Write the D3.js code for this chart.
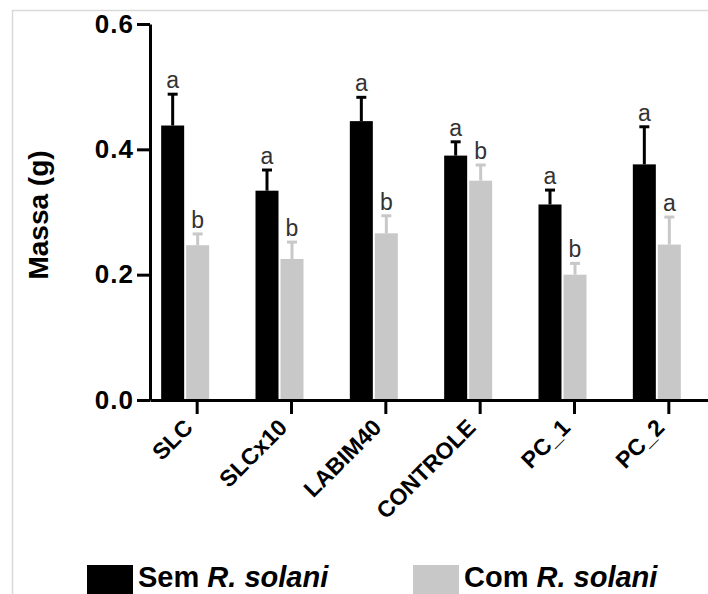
<!DOCTYPE html>
<html>
<head>
<meta charset="utf-8">
<script src="https://cdn.jsdelivr.net/npm/d3@7"></script>
<style>
  body { margin: 0; background: #fff; }
  svg { display: block; font-family: "Liberation Sans", Arial, sans-serif; }
</style>
</head>
<body>
<svg id="chart"></svg>
<script>
const categories = ['SLC', 'SLCx10', 'LABIM40', 'CONTROLE', 'PC_1', 'PC_2'];
const series = ['sem', 'com'];
const semMeans = [0.438, 0.334, 0.445, 0.390, 0.312, 0.376];
const semErr = [0.050, 0.033, 0.038, 0.022, 0.023, 0.060];
const comMeans = [0.247, 0.225, 0.266, 0.350, 0.200, 0.248];
const comErr = [0.018, 0.027, 0.028, 0.025, 0.018, 0.044];
const semLetters = ['a', 'a', 'a', 'a', 'a', 'a'];
const comLetters = ['b', 'b', 'b', 'b', 'b', 'a'];
const yTicks = [0, 0.2, 0.4, 0.6];
const legendLabels = ['Sem', 'Com'];

const width = 708, height = 594;
const colors = {sem: '#000000', com: '#c8c8c8'};

const rows = categories.flatMap((c, i) => [
  {cat: c, s: 'sem', v: semMeans[i], e: semErr[i], l: semLetters[i]},
  {cat: c, s: 'com', v: comMeans[i], e: comErr[i], l: comLetters[i]}
]);

const svg = d3.select('#chart').attr('width', width).attr('height', height);

// light frame
svg.append('path')
  .attr('d', `M12.5,${height} V10.5 H${width}`)
  .attr('fill', 'none').attr('stroke', '#d9d9d9').attr('stroke-width', 1.5);

const x = d3.scaleBand().domain(categories).range([150, 716]).padding(0);
const xs = d3.scaleBand().domain(series).range([-36, 12]).paddingInner(0.08);
const y = d3.scaleLinear().domain([0, 0.6]).range([400, 24]);
const cx = d => x(d.cat) + x.bandwidth() / 2;

// bars
svg.append('g')
  .selectAll('rect')
  .data(rows)
  .join('rect')
    .attr('x', d => cx(d) + xs(d.s))
    .attr('width', xs.bandwidth())
    .attr('y', d => y(d.v))
    .attr('height', d => y(0) - y(d.v))
    .attr('fill', d => colors[d.s]);

// error bars (upper half only)
const err = svg.append('g')
  .selectAll('g')
  .data(rows)
  .join('g')
    .attr('stroke', d => colors[d.s])
    .attr('stroke-width', 3);
err.append('line')
  .attr('x1', d => cx(d) + xs(d.s) + xs.bandwidth() / 2)
  .attr('x2', d => cx(d) + xs(d.s) + xs.bandwidth() / 2)
  .attr('y1', d => y(d.v))
  .attr('y2', d => y(d.v + d.e));
err.append('line')
  .attr('x1', d => cx(d) + xs(d.s) + xs.bandwidth() / 2 - 5)
  .attr('x2', d => cx(d) + xs(d.s) + xs.bandwidth() / 2 + 5)
  .attr('y1', d => y(d.v + d.e))
  .attr('y2', d => y(d.v + d.e));

// significance letters
svg.append('g')
  .attr('font-size', 23)
  .attr('fill', '#333')
  .attr('text-anchor', 'middle')
  .selectAll('text')
  .data(rows)
  .join('text')
    .attr('x', d => cx(d) + xs(d.s) + xs.bandwidth() / 2)
    .attr('y', d => y(d.v + d.e) - 6)
    .text(d => d.l);

// y axis
const yAxis = svg.append('g')
  .attr('transform', 'translate(150,0)')
  .call(d3.axisLeft(y).tickValues(yTicks).tickFormat(d3.format('.1f')).tickSize(13).tickSizeOuter(0).tickPadding(3));
yAxis.select('.domain').attr('stroke-width', 3);
yAxis.selectAll('.tick line').attr('stroke-width', 3);
yAxis.selectAll('.tick text')
  .attr('font-size', 26).attr('font-weight', 'bold').attr('fill', '#000')
  .attr('font-family', '"Liberation Sans", Arial, sans-serif')
  .attr('letter-spacing', 1);

// x axis
const xAxis = svg.append('g')
  .attr('transform', `translate(0,${y(0)})`)
  .call(d3.axisBottom(x).tickSize(14).tickSizeOuter(0));
xAxis.select('.domain').attr('stroke-width', 3);
xAxis.selectAll('.tick line').attr('stroke-width', 3);
xAxis.selectAll('.tick text')
  .attr('font-size', 23).attr('font-weight', 'bold').attr('fill', '#000')
  .attr('font-family', '"Liberation Sans", Arial, sans-serif')
  .attr('text-anchor', 'end')
  .attr('x', 0).attr('y', 0).attr('dy', 0)
  .attr('transform', 'translate(-3,29) rotate(-45)');

// y axis title
svg.append('text')
  .attr('transform', 'translate(48,215) rotate(-90)')
  .attr('text-anchor', 'middle')
  .attr('font-size', 28).attr('font-weight', 'bold')
  .text('Massa (g)');

// legend
const legend = svg.append('g')
  .selectAll('g')
  .data(series)
  .join('g')
    .attr('transform', (d, i) => `translate(${[87, 413][i]},565)`);
legend.append('rect')
  .attr('width', 46).attr('height', 29)
  .attr('fill', d => colors[d]);
legend.append('text')
  .attr('x', 51).attr('y', 22)
  .attr('font-size', 29).attr('font-weight', 'bold')
  .call(t => t.append('tspan').text((d, i) => legendLabels[i] + ' '))
  .call(t => t.append('tspan').attr('font-style', 'italic').text('R. solani'));
</script>
</body>
</html>
